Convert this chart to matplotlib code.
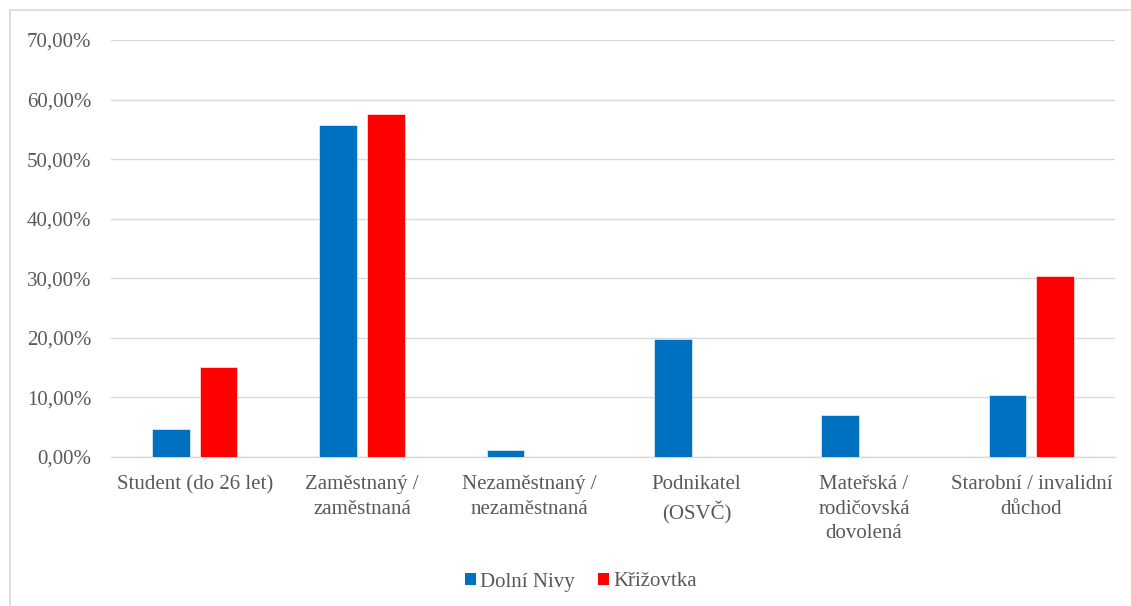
import matplotlib
matplotlib.use("Agg")
import matplotlib.pyplot as plt
import numpy as np
from matplotlib.patches import Patch
from matplotlib.lines import Line2D
from matplotlib.ticker import FuncFormatter

categories = ["Student (do 26 let)", "Zaměstnaný /\nzaměstnaná", "Nezaměstnaný /\nnezaměstnaná",
              "Podnikatel\n(OSVČ)", "Mateřská /\nrodičovská\ndovolená", "Starobní / invalidní\ndůchod"]
series_names = ["Dolní Nivy", "Křižovtka"]
dolni_nivy = [4.65, 55.81, 1.16, 19.77, 6.98, 10.47]
krizovtka = [15.15, 57.58, 0.0, 0.0, 0.0, 30.30]
y_ticks = [0, 10, 20, 30, 40, 50, 60, 70]

blue = "#0070C0"
red = "#FF0000"
text_col = "#595959"
grid_col = "#D9D9D9"

plt.rcParams['font.family'] = ['Liberation Serif', 'DejaVu Serif']

W, H = 1131, 606
fig = plt.figure(figsize=(W / 100, H / 100), dpi=100)
ax = fig.add_axes([111 / W, (H - 457) / H, (1115 - 111) / W, (457 - 40) / H])

x = np.arange(len(categories))
bw = 0.225
off = 0.143
ax.bar(x - off, dolni_nivy, bw, color=blue, edgecolor="white", linewidth=0.4, zorder=3)
ax.bar(x + off, krizovtka, bw, color=red, edgecolor="white", linewidth=0.4, zorder=3)

ax.set_xlim(-0.5, len(categories) - 0.5)
ax.set_ylim(0, 70)
ax.set_yticks(y_ticks)
ax.yaxis.set_major_formatter(FuncFormatter(lambda v, p: f"{v:.2f}".replace(".", ",") + "%"))
ax.set_xticks(x)
ax.set_xticklabels(categories, linespacing=1.4)
ax.tick_params(axis='y', length=0, pad=14, labelsize=15, labelcolor=text_col)
ax.tick_params(axis='x', length=0, pad=13, labelsize=15, labelcolor=text_col)
ax.grid(axis='y', color=grid_col, linewidth=1.0, zorder=0)
for s in ["top", "right", "left"]:
    ax.spines[s].set_visible(False)
ax.spines["bottom"].set_color(grid_col)
ax.spines["bottom"].set_linewidth(1.0)

# outer chart border (top and left visible)
fig.add_artist(Line2D([10 / W, 1.0], [1 - 10 / H, 1 - 10 / H], color=grid_col, linewidth=1.2, transform=fig.transFigure))
fig.add_artist(Line2D([10 / W, 10 / W], [0.0, 1 - 10 / H], color=grid_col, linewidth=1.2, transform=fig.transFigure))

handles = [Patch(facecolor=blue, edgecolor="none"), Patch(facecolor=red, edgecolor="none")]
leg = fig.legend(handles, series_names, loc="center", bbox_to_anchor=(581 / W, 1 - 582 / H),
                 ncol=2, frameon=False, fontsize=15, handlelength=0.53, handleheight=0.53,
                 handletextpad=0.2, columnspacing=1.1, labelcolor=text_col)

fig.savefig("out.png", dpi=100)
